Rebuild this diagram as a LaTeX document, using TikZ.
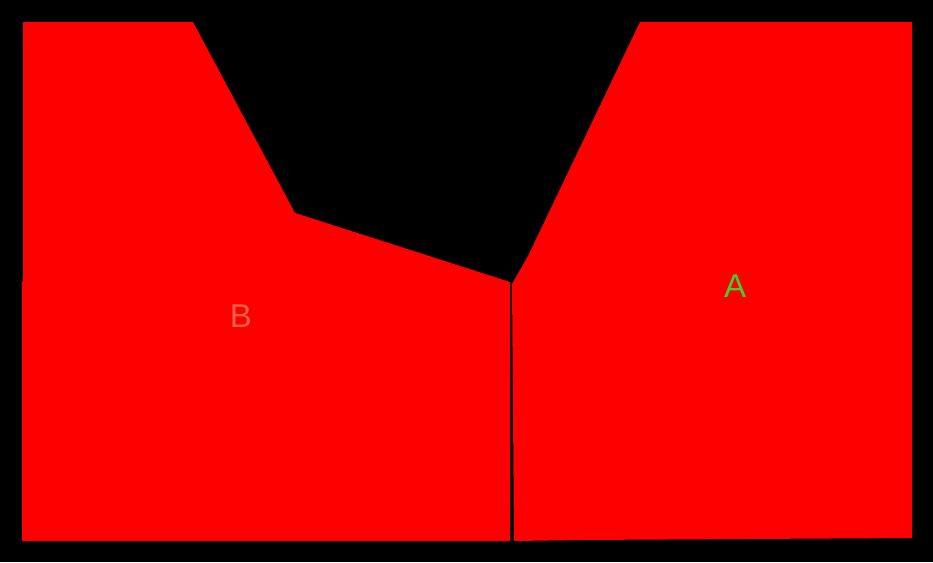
\documentclass[tikz,border=0pt]{standalone}
\usepackage{fontspec}
\setmainfont{Liberation Sans}
\begin{document}
\begin{tikzpicture}[x=1pt,y=-1pt,
  region/.style={fill=red,draw=none},
  lbl/.style={font=\fontsize{33}{33}\selectfont,inner sep=0pt,anchor=center}]
\definecolor{lblA}{RGB}{68,204,51}
\definecolor{lblB}{RGB}{230,96,76}
\fill[black] (0,0) rectangle (933,562);
\useasboundingbox (0,0) rectangle (933,562);
\fill[region] (23,22) -- (193,22) -- (295,213) -- (510,282) -- (510,541) -- (22,541) -- (22,281) -- (23,281) -- cycle;
\fill[region] (640,22) -- (912,22) -- (912,538) -- (582,540) -- (514,541) -- (512,284) -- (528,256) -- cycle;
\node[lbl,text=lblA] (A) at (735,286) {A};
\node[lbl,text=lblB] (B) at (241,316) {B};
\end{tikzpicture}
\end{document}
